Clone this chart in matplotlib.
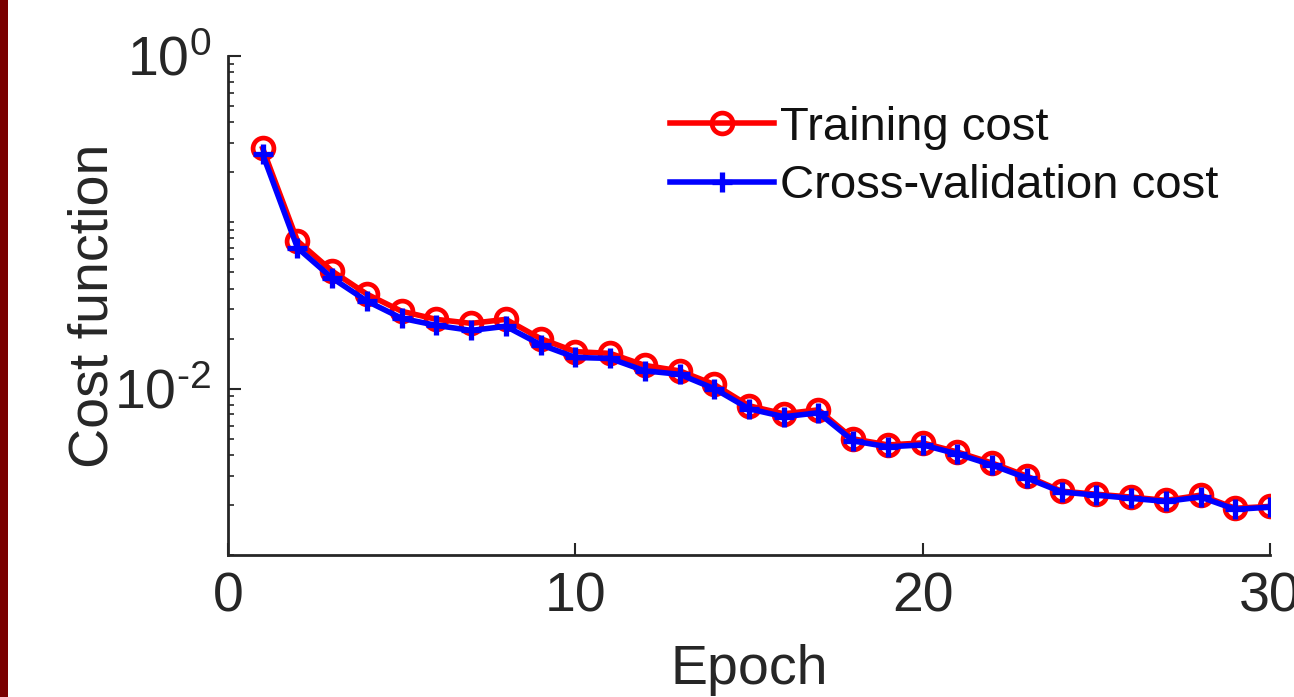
import matplotlib
matplotlib.use("Agg")
import matplotlib.pyplot as plt
from matplotlib.ticker import LogLocator, NullFormatter
from matplotlib.patches import Rectangle

plt.rcParams['font.family'] = ['Liberation Sans', 'DejaVu Sans']
plt.rcParams['mathtext.fontset'] = 'custom'
plt.rcParams['mathtext.rm'] = 'Liberation Sans'

epochs = list(range(1, 31))
training_cost = [0.278, 0.0773, 0.0509, 0.0370, 0.0292, 0.0261, 0.0247, 0.0261, 0.0200, 0.0167,
                 0.0163, 0.0138, 0.0128, 0.0106, 0.00789, 0.00706, 0.00746, 0.00499, 0.00459, 0.00472,
                 0.00416, 0.00357, 0.00298, 0.00242, 0.00232, 0.00223, 0.00213, 0.00229, 0.00191, 0.00196]
cv_cost = [0.256, 0.0702, 0.0462, 0.0336, 0.0265, 0.0240, 0.0224, 0.0237, 0.0184, 0.0154,
           0.0152, 0.0128, 0.0122, 0.0100, 0.00757, 0.00678, 0.00716, 0.00485, 0.00447, 0.00459,
           0.00405, 0.00347, 0.00290, 0.00239, 0.00229, 0.00219, 0.00210, 0.00223, 0.00188, 0.00194]
x_ticks = [0, 10, 20, 30]
y_ticks = [1e-2, 1e0]
y_ticklabels = [r'$\mathregular{10^{\text{-}2}}$', r'$\mathregular{10^{0}}$']

fig = plt.figure(figsize=(12.94, 6.97), dpi=100)
fig.patches.append(Rectangle((0, 0), 8 / 1294, 1, transform=fig.transFigure,
                             facecolor='#7a0000', edgecolor='none'))
ax = fig.add_axes([228 / 1294, 1 - 555 / 697, (1270 - 228) / 1294, (555 - 56) / 697])

ax.plot(epochs, training_cost, color='#ff0000', lw=4, marker='o', ms=15,
        mfc='none', mec='#ff0000', mew=3.4, label='Training cost')
ax.plot(epochs, cv_cost, color='#0000ff', lw=4, marker='+', ms=14,
        mec='#0000ff', mew=3.8, label='Cross-validation cost')

ax.set_yscale('log')
ax.set_xlim(0, 30)
ax.set_ylim(1e-3, 1)
ax.set_xticks(x_ticks)
ax.set_yticks(y_ticks)
ax.set_yticklabels(y_ticklabels)
ax.yaxis.set_minor_locator(LogLocator(base=10, subs=[1, 2, 3, 4, 5, 6, 7, 8, 9], numticks=20))
ax.yaxis.set_minor_formatter(NullFormatter())

for s in ['top', 'right']:
    ax.spines[s].set_visible(False)
for s in ['left', 'bottom']:
    ax.spines[s].set_linewidth(2)
    ax.spines[s].set_color('#262626')

ax.tick_params(axis='both', which='major', direction='in', length=9, width=1.5,
               labelsize=40, colors='#262626', pad=12)
ax.tick_params(axis='y', which='minor', direction='in', length=4.5, width=1.2, colors='#262626')
ax.tick_params(axis='x', which='minor', length=0)

ax.set_xlabel('Epoch', fontsize=40, color='#262626', labelpad=15)
ax.set_ylabel('Cost function', fontsize=40, color='#262626', labelpad=-4)

leg = ax.legend(loc='upper left', bbox_to_anchor=((670 - 228) / 1042, (555 - 106) / 499),
                frameon=False, fontsize=34, handlelength=2.2, handletextpad=0.12,
                labelspacing=0.3, borderaxespad=0.0, borderpad=0.0)
for t in leg.get_texts():
    t.set_color('#111111')

fig.savefig('out.png', dpi=100, facecolor='white')
